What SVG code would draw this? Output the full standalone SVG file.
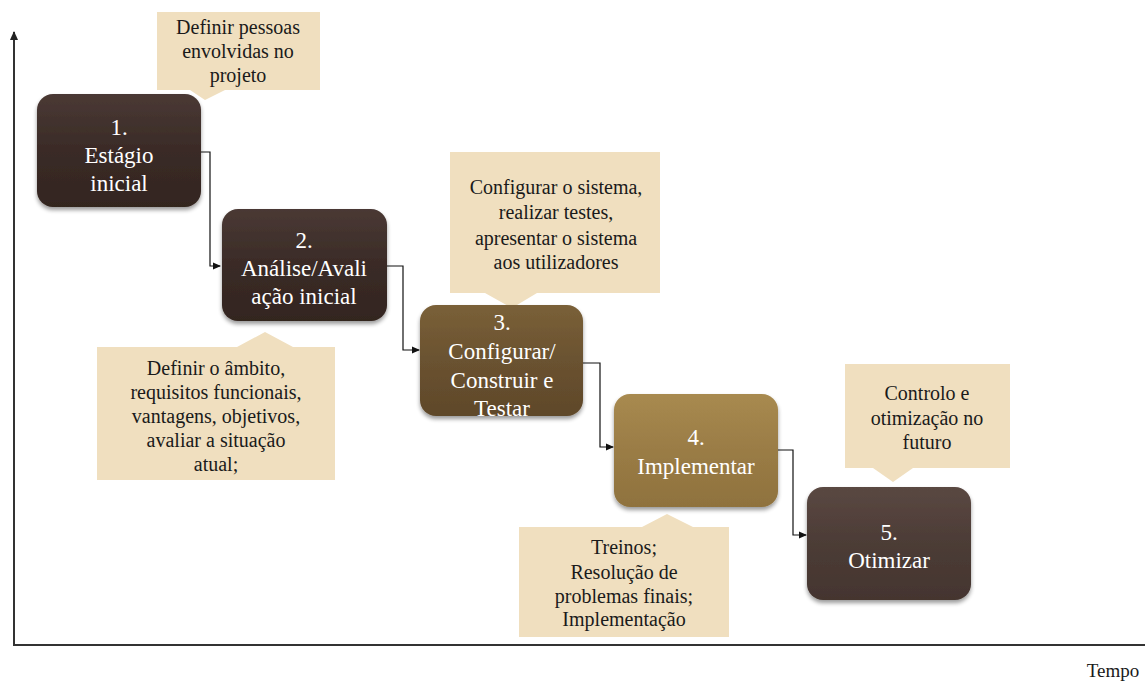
<svg xmlns="http://www.w3.org/2000/svg" width="1145" height="681" viewBox="0 0 1145 681">
<style>
.bx{font-family:"Liberation Serif","Times New Roman","DejaVu Serif",serif;font-size:23px;fill:#ffffff;text-anchor:middle}
.ct{font-family:"Liberation Serif","Times New Roman","DejaVu Serif",serif;font-size:20px;fill:#1a1a1a;text-anchor:middle}
.co{fill:#f0dfbf}
.cn{fill:none;stroke:#111;stroke-width:1.2}
.ax{fill:none;stroke:#333;stroke-width:2}
</style>
<defs>
<marker id="ar" markerWidth="8" markerHeight="8" refX="7" refY="4" orient="auto" markerUnits="userSpaceOnUse">
<path d="M0,0.5 L8,4 L0,7.5 z" fill="#111"/>
</marker>
<marker id="axar" markerWidth="10" markerHeight="10" refX="5" refY="1" orient="0" markerUnits="userSpaceOnUse">
<path d="M5,0 L9,9 L1,9 z" fill="#222"/>
</marker>
<linearGradient id="gDark" x1="0" y1="0" x2="0" y2="1">
<stop offset="0" stop-color="#4a3934"/><stop offset="0.5" stop-color="#3a2b27"/><stop offset="1" stop-color="#33251f"/>
</linearGradient>
<linearGradient id="gDark5" x1="0" y1="0" x2="0" y2="1">
<stop offset="0" stop-color="#5a4842"/><stop offset="0.5" stop-color="#4c3c36"/><stop offset="1" stop-color="#44352f"/>
</linearGradient>
<linearGradient id="gOlive" x1="0" y1="0" x2="0" y2="1">
<stop offset="0" stop-color="#7a6038"/><stop offset="0.5" stop-color="#6a5230"/><stop offset="1" stop-color="#5f482a"/>
</linearGradient>
<linearGradient id="gGold" x1="0" y1="0" x2="0" y2="1">
<stop offset="0" stop-color="#a88a50"/><stop offset="0.5" stop-color="#9a7c45"/><stop offset="1" stop-color="#8f723e"/>
</linearGradient>
<filter id="sh" x="-10%" y="-10%" width="120%" height="125%">
<feGaussianBlur in="SourceAlpha" stdDeviation="2"/>
<feOffset dx="0" dy="3" result="o"/>
<feComponentTransfer><feFuncA type="linear" slope="0.4"/></feComponentTransfer>
<feMerge><feMergeNode/><feMergeNode in="SourceGraphic"/></feMerge>
</filter>
</defs>
<rect width="1145" height="681" fill="#ffffff"/>

<g id="axes">
<line class="ax" x1="14" y1="645" x2="14" y2="32" marker-end="url(#axar)"/>
<line class="ax" x1="13" y1="645" x2="1145" y2="645"/>
<text x="1113" y="677" class="ct" style="font-size:19px">Tempo</text>
</g>

<g id="connectors">
<polyline class="cn" points="201,152 210,152 210,266 220,266" marker-end="url(#ar)"/>
<polyline class="cn" points="387,266 403,266 403,350 419,350" marker-end="url(#ar)"/>
<polyline class="cn" points="583,363 600,363 600,447 613,447" marker-end="url(#ar)"/>
<polyline class="cn" points="778,450 793,450 793,535 806,535" marker-end="url(#ar)"/>
</g>

<g id="callout1">
<path class="co" d="M157,12 H320 V90 H225 L205,100 L190,90 H157 Z"/>
<text class="ct" x="238" y="34">Definir pessoas</text>
<text class="ct" x="238" y="58">envolvidas no</text>
<text class="ct" x="238" y="82">projeto</text>
</g>

<g id="callout2">
<path class="co" d="M97,347 H237 L265,332 L293,347 H335 V480 H97 Z"/>
<text class="ct" x="216" y="375">Definir o âmbito,</text>
<text class="ct" x="216" y="399">requisitos funcionais,</text>
<text class="ct" x="216" y="423">vantagens, objetivos,</text>
<text class="ct" x="216" y="447">avaliar a situação</text>
<text class="ct" x="216" y="471">atual;</text>
</g>

<g id="callout3">
<path class="co" d="M450,152 H660 V293 H537 L512,308 L485,293 H450 Z"/>
<text class="ct" x="556" y="194">Configurar o sistema,</text>
<text class="ct" x="556" y="219">realizar testes,</text>
<text class="ct" x="556" y="245">apresentar o sistema</text>
<text class="ct" x="556" y="269">aos utilizadores</text>
</g>

<g id="callout4">
<path class="co" d="M519,527 H642 L667,514 L693,527 H729 V637 H519 Z"/>
<text class="ct" x="624" y="554">Treinos;</text>
<text class="ct" x="624" y="579">Resolução de</text>
<text class="ct" x="624" y="603">problemas finais;</text>
<text class="ct" x="624" y="626">Implementação</text>
</g>

<g id="callout5">
<path class="co" d="M845,364 H1010 V468 H913 L893,482 L873,468 H845 Z"/>
<text class="ct" x="927" y="400">Controlo e</text>
<text class="ct" x="927" y="425">otimização no</text>
<text class="ct" x="927" y="449">futuro</text>
</g>

<g id="node1">
<rect x="37" y="94" width="164" height="113" rx="16" fill="url(#gDark)" filter="url(#sh)"/>
<text class="bx" x="119" y="135">1.</text>
<text class="bx" x="119" y="163">Estágio</text>
<text class="bx" x="119" y="191">inicial</text>
</g>

<g id="node2">
<rect x="222" y="209" width="165" height="112" rx="16" fill="url(#gDark)" filter="url(#sh)"/>
<text class="bx" x="304" y="248">2.</text>
<text class="bx" x="304" y="276">Análise/Avali</text>
<text class="bx" x="304" y="304">ação inicial</text>
</g>

<g id="node3">
<rect x="420" y="305" width="163" height="111" rx="16" fill="url(#gOlive)" filter="url(#sh)"/>
<text class="bx" x="502" y="330">3.</text>
<text class="bx" x="502" y="359">Configurar/</text>
<text class="bx" x="502" y="388">Construir e</text>
<text class="bx" x="502" y="416">Testar</text>
</g>

<g id="node4">
<rect x="614" y="394" width="164" height="113" rx="16" fill="url(#gGold)" filter="url(#sh)"/>
<text class="bx" x="696" y="445">4.</text>
<text class="bx" x="696" y="474">Implementar</text>
</g>

<g id="node5">
<rect x="807" y="487" width="164" height="113" rx="16" fill="url(#gDark5)" filter="url(#sh)"/>
<text class="bx" x="889" y="540">5.</text>
<text class="bx" x="889" y="568">Otimizar</text>
</g>
</svg>
